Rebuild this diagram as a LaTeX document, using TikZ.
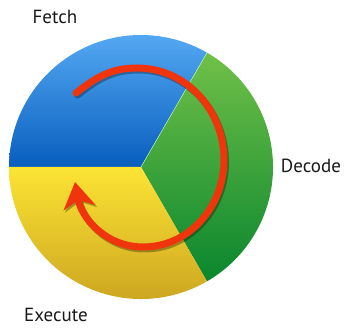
\documentclass[tikz,border=0pt]{standalone}
\usepackage{fontspec}
\setmainfont{PT Sans}
\usetikzlibrary{arrows.meta}
\definecolor{bluetop}{RGB}{84,168,242}
\definecolor{bluebot}{RGB}{8,94,190}
\definecolor{greentop}{RGB}{112,192,72}
\definecolor{greenbot}{RGB}{10,134,46}
\definecolor{yellowtop}{RGB}{252,228,52}
\definecolor{yellowbot}{RGB}{198,158,30}
\definecolor{cyclered}{RGB}{240,52,12}
\begin{document}
\begin{tikzpicture}[x=1pt,y=1pt,line cap=round,
    label/.style={font=\fontsize{19}{22}\selectfont,text=black!90},
    cyclearrow/.style={line width=7pt,-{Stealth[length=26pt,width=32pt,inset=8pt]}}]
  \useasboundingbox (0,0) rectangle (349,331);
  \def\R{132}
  \coordinate (c) at (141,164);
  % three stages
  \shade[top color=bluetop,bottom color=bluebot] (c) -- ++(180:\R)
    arc[start angle=180,end angle=60,radius=\R] -- cycle;
  \shade[top color=greentop,bottom color=greenbot] (c) -- ++(60:\R)
    arc[start angle=60,end angle=-60,radius=\R] -- cycle;
  \shade[top color=yellowtop,bottom color=yellowbot] (c) -- ++(-60:\R)
    arc[start angle=-60,end angle=-180,radius=\R] -- cycle;
  \draw[white!80!green,line width=0.4pt] (c) -- ++(60:\R);
  % cycle arrow with its shadow
  \def\cyclepath{(76,238) to[out=38,in=180] (137,263) to[out=0,in=90] (224,171)
    to[out=-90,in=0] (143,84) to[out=180,in=-80] (75,149)}
  \draw[cyclearrow,black,opacity=0.3,shift={(1.5,-2)}] \cyclepath;
  \draw[cyclearrow,cyclered] \cyclepath;
  \node[label] (fetch) at (55,314) {Fetch};
  \node[label] (decode) at (311,165) {Decode};
  \node[label] (execute) at (56,16) {Execute};
\end{tikzpicture}
\end{document}
